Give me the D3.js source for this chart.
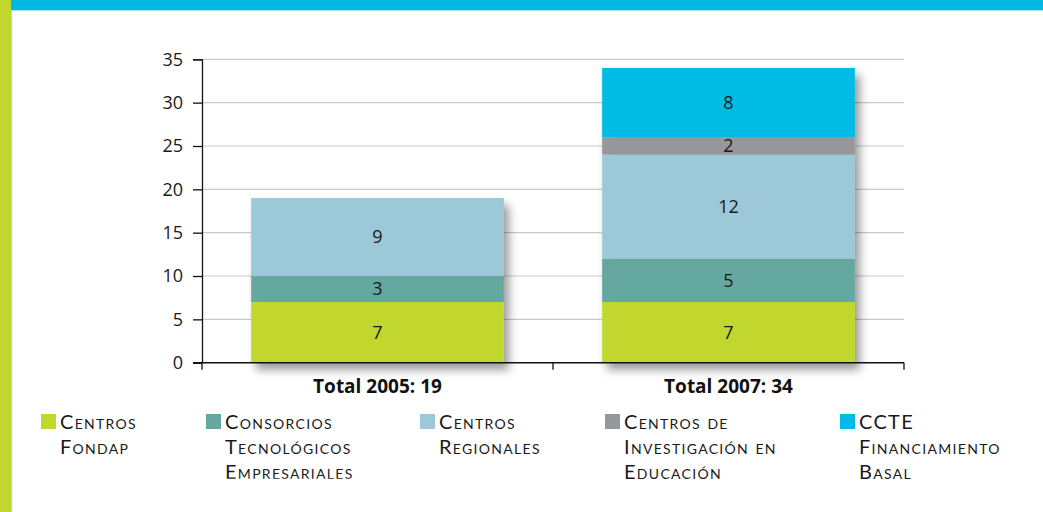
<!DOCTYPE html>
<html>
<head>
<meta charset="utf-8">
<script src="https://cdn.jsdelivr.net/npm/d3@7"></script>
<style>
  body { margin: 0; background: #fff; }
  svg { display: block; }
</style>
</head>
<body>
<div id="chart"></div>
<script>
// data
var categories = ["Total 2005: 19", "Total 2007: 34"];
var seriesKeys = ["fondap", "consorcios", "regionales", "educacion", "basal"];
var seriesLabels = [
  ["Centros", "Fondap"],
  ["Consorcios", "Tecnológicos", "Empresariales"],
  ["Centros", "Regionales"],
  ["Centros de", "Investigación en", "Educación"],
  ["CCTE", "Financiamiento", "Basal"]
];
var fondap = [7, 7];
var consorcios = [3, 5];
var regionales = [9, 12];
var educacion = [0, 2];
var basal = [0, 8];
var yTicks = [0, 5, 10, 15, 20, 25, 30, 35];

var colors = ["#c2d72e", "#65a8a0", "#9cc8d8", "#96979b", "#00bbe3"];

var W = 1043, H = 512;
var margin = { top: 59.3, left: 202, right: 139, bottom: 149.3 };
var width = W - margin.left - margin.right;
var height = H - margin.top - margin.bottom;

var rows = categories.map(function (c, i) {
  return {
    cat: c,
    fondap: fondap[i],
    consorcios: consorcios[i],
    regionales: regionales[i],
    educacion: educacion[i],
    basal: basal[i]
  };
});

var svg = d3.select("#chart").append("svg")
  .attr("width", W)
  .attr("height", H);

// shadow for the bars
var defs = svg.append("defs");
var f = defs.append("filter").attr("id", "shadow")
  .attr("x", "-10%").attr("y", "-10%").attr("width", "130%").attr("height", "130%");
f.append("feDropShadow")
  .attr("dx", 5).attr("dy", 7).attr("stdDeviation", 5)
  .attr("flood-color", "#000").attr("flood-opacity", 0.4);

// the second legend label is cut off at the bottom in the original
defs.append("clipPath").attr("id", "legclip")
  .append("rect").attr("x", 0).attr("y", -20).attr("width", 200).attr("height", 84.8);

// page frame
svg.append("rect").attr("x", 0).attr("y", 0).attr("width", W).attr("height", 10).attr("fill", "#00b9e3");
svg.append("rect").attr("x", 11).attr("y", 10).attr("width", W).attr("height", 1).attr("fill", "#a8e2f2");
svg.append("rect").attr("x", 0).attr("y", 0).attr("width", 11).attr("height", H).attr("fill", "#c2d72e");
svg.append("rect").attr("x", 11).attr("y", 10).attr("width", 1.3).attr("height", H).attr("fill", "#a8dff0");

var g = svg.append("g").attr("transform", `translate(${margin.left},${margin.top})`);

var x = d3.scaleBand()
  .domain(categories)
  .range([0, width])
  .paddingInner(0.28)
  .paddingOuter(0.14);

var y = d3.scaleLinear().domain([0, 35]).range([height, 0]);

// gridlines
g.append("g").selectAll("line")
  .data(yTicks.slice(1))
  .enter().append("line")
  .attr("x1", 0).attr("x2", width)
  .attr("y1", function (d) { return y(d); })
  .attr("y2", function (d) { return y(d); })
  .attr("stroke", "#c9c9c9")
  .attr("stroke-width", 1.2);

// y axis
var yAxis = g.append("g")
  .call(d3.axisLeft(y).tickValues(yTicks).tickSize(9).tickPadding(10));
yAxis.select(".domain").attr("stroke", "#111").attr("stroke-width", 1.3);
yAxis.selectAll(".tick line").attr("stroke", "#111").attr("stroke-width", 1.3);
yAxis.selectAll("text")
  .attr("font-family", "Open Sans, sans-serif")
  .attr("font-size", 18)
  .attr("fill", "#1a1a1a");

var stack = d3.stack().keys(seriesKeys);
var layers = stack(rows);

// bars
var barG = g.append("g");
rows.forEach(function (r, i) {
  var bar = barG.append("g").attr("filter", "url(#shadow)");
  layers.forEach(function (layer, k) {
    var d = layer[i];
    if (d[1] - d[0] <= 0) return;
    bar.append("rect")
      .attr("x", x(r.cat))
      .attr("width", x.bandwidth())
      .attr("y", y(d[1]))
      .attr("height", y(d[0]) - y(d[1]))
      .attr("fill", colors[k]);
  });
});

// value labels
layers.forEach(function (layer, k) {
  g.append("g").selectAll("text")
    .data(layer.filter(function (d) { return d[1] - d[0] > 0; }))
    .enter().append("text")
    .attr("x", function (d) { return x(d.data.cat) + x.bandwidth() / 2; })
    .attr("y", function (d) { return (y(d[0]) + y(d[1])) / 2; })
    .attr("dy", "0.36em")
    .attr("text-anchor", "middle")
    .attr("font-family", "Open Sans, sans-serif")
    .attr("font-size", 18)
    .attr("fill", "#1a1a1a")
    .text(function (d) { return d[1] - d[0]; });
});

// x axis
var xAxisG = g.append("g").attr("transform", `translate(0,${height})`);
xAxisG.append("line")
  .attr("x1", -9).attr("x2", width)
  .attr("stroke", "#111").attr("stroke-width", 1.5);
xAxisG.selectAll(".xt")
  .data([0, x.step(), width])
  .enter().append("line")
  .attr("x1", function (d) { return d; })
  .attr("x2", function (d) { return d; })
  .attr("y1", 0).attr("y2", 7)
  .attr("stroke", "#111").attr("stroke-width", 1.3);
xAxisG.selectAll("text")
  .data(categories)
  .enter().append("text")
  .attr("x", function (d) { return x(d) + x.bandwidth() / 2; })
  .attr("y", 30.5)
  .attr("text-anchor", "middle")
  .attr("font-family", "Open Sans, sans-serif")
  .attr("font-weight", "bold")
  .attr("font-size", 19)
  .attr("fill", "#111")
  .text(function (d) { return d; });

// legend
var legendX = [41, 206, 420, 605, 840];
var legend = svg.append("g");
seriesLabels.forEach(function (lines, k) {
  var item = legend.append("g").attr("transform", `translate(${legendX[k]},414)`);
  if (k === 1) item.attr("clip-path", "url(#legclip)");
  item.append("rect")
    .attr("width", 15).attr("height", 15)
    .attr("fill", colors[k]);
  item.append("text")
    .attr("x", 19)
    .attr("y", 14.7)
    .attr("font-family", "Lato, sans-serif")
    .attr("font-size", 20)
    .attr("font-variant", "small-caps")
    .attr("letter-spacing", 1.3)
    .attr("fill", "#1a1a1a")
    .selectAll("tspan")
    .data(lines)
    .enter().append("tspan")
    .attr("x", 19)
    .attr("dy", function (d, i) { return i === 0 ? 0 : 25.3; })
    .text(function (d) { return d; });
});
</script>
</body>
</html>
